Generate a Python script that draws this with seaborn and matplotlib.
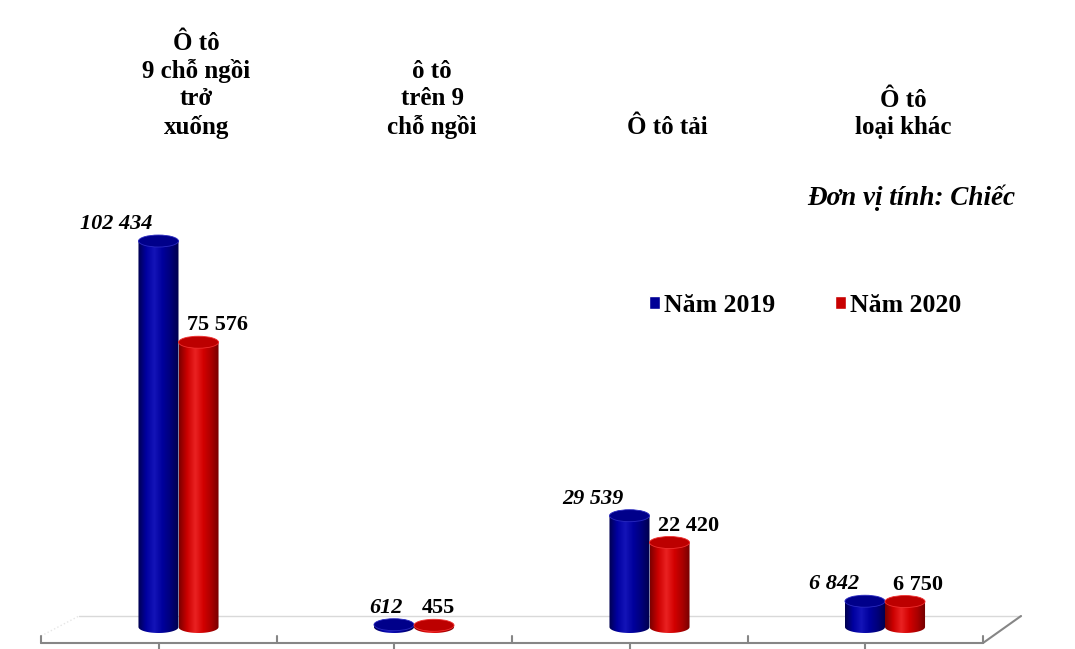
""" vehicle output 2019 vs 2020, drawn as excel-like 3d cylinders """
import numpy as np
import pandas as pd
import matplotlib
matplotlib.use("Agg")
import matplotlib.pyplot as plt
from matplotlib.colors import LinearSegmentedColormap
from matplotlib.patches import Ellipse, PathPatch
from matplotlib.path import Path
import seaborn as sns

# data
categories = ["Ô tô\n9 chỗ ngồi\ntrở\nxuống", "ô tô\ntrên 9\nchỗ ngồi", "Ô tô tải", "Ô tô\nloại khác"]
years = ["Năm 2019", "Năm 2020"]
values_2019 = [102434, 612, 29539, 6842]
values_2020 = [75576, 455, 22420, 6750]
unit_note = "Đơn vị tính: Chiếc"

# layout (pixels of the 1075x649 canvas)
W, H = 1075, 649
GROUP_X0 = 178.5      # px of first group centre
GROUP_STEP = 235.5    # px between groups
BASE_PY = 627         # px row of value 0
PX_PER_UNIT = 0.003768
ELL_PX = 12           # height of the cylinder ellipses
BLUE, RED = "#000096", "#c80000"
FONT = "Liberation Serif"


def x_of(px):
    return (px - GROUP_X0) / GROUP_STEP


def y_of(py):
    return (BASE_PY - py) / PX_PER_UNIT


def fmt(v):
    return "{:,}".format(v).replace(",", " ")


df = pd.DataFrame({
    "cat": categories * 2,
    "year": [years[0]] * len(categories) + [years[1]] * len(categories),
    "value": values_2019 + values_2020,
})

sns.set_style("white")
plt.rcParams["font.family"] = [FONT, "DejaVu Serif"]
plt.rcParams["text.color"] = "black"

fig = plt.figure(figsize=(W / 100, H / 100), dpi=100)
ax = fig.add_axes([0, 0, 1, 1])
sns.barplot(data=df, x="cat", y="value", hue="year", order=categories, hue_order=years,
            palette=[BLUE, RED], width=0.34, saturation=1, ax=ax, legend=True)

cmaps = {
    0: LinearSegmentedColormap.from_list("b", ["#00004e", "#0000a0", "#1414b8", "#00009c", "#00007a", "#00004a"]),
    1: LinearSegmentedColormap.from_list("r", ["#7a0000", "#cc0000", "#ea2222", "#d20000", "#a80000", "#6e0000"]),
}
tops = {0: ("#00008a", "#2a2ac0"), 1: ("#bc0000", "#f03030")}
grad = np.linspace(0, 1, 256).reshape(1, -1)
eh = ELL_PX / PX_PER_UNIT

for hi, cont in enumerate(ax.containers):
    for bar in cont:
        x0, w, h = bar.get_x(), bar.get_width(), bar.get_height()
        xc = x0 + w / 2
        bar.set_facecolor("none")
        bar.set_edgecolor("none")
        t = np.linspace(np.pi, 2 * np.pi, 40)
        verts = [(x0, h), (x0, 0)] + list(zip(xc + w / 2 * np.cos(t), eh / 2 * np.sin(t))) + [(x0 + w, h), (x0, h)]
        clip = PathPatch(Path(verts), facecolor="none", edgecolor="none", transform=ax.transData)
        ax.add_patch(clip)
        im = ax.imshow(grad, cmap=cmaps[hi], extent=(x0, x0 + w, -eh / 2, h), aspect="auto",
                       origin="lower", interpolation="bilinear", zorder=2)
        im.set_clip_path(clip)
        ax.add_patch(Ellipse((xc, h), w, eh, facecolor=tops[hi][0], edgecolor=tops[hi][1], lw=0.6, zorder=3))

# value labels
lab_dy = 6 / PX_PER_UNIT
for hi, cont in enumerate(ax.containers):
    for bar in cont:
        x0, w, h = bar.get_x(), bar.get_width(), bar.get_height()
        xc = x0 + w / 2
        y = h + eh / 2 + lab_dy
        if hi == 0:
            nudge = 9 if h < 1000 else -6
            ax.text(xc + nudge / GROUP_STEP, y, fmt(int(h)), ha="right", va="baseline",
                    fontsize=16, fontweight="bold", fontstyle="italic", zorder=5)
        else:
            ax.text(xc - 12 / GROUP_STEP, y, fmt(int(h)), ha="left", va="baseline",
                    fontsize=16, fontweight="bold", zorder=5)

# category labels above the chart
for i, cat in enumerate(categories):
    ax.text(i + 18 / GROUP_STEP, y_of(139), cat, ha="center", va="bottom", fontsize=18,
            fontweight="bold", linespacing=1.24)

ax.text(x_of(1015), y_of(205), unit_note, ha="right", va="baseline", fontsize=19.5,
        fontweight="bold", fontstyle="italic")

# floor of the 3d plot area
fx0, fx1, bx0, bx1 = 41, 983, 79, 1021
ax.plot([x_of(bx0), x_of(bx1)], [y_of(616), y_of(616)], color="#d9d9d9", lw=1, zorder=1)
ax.plot([x_of(fx0), x_of(fx1)], [y_of(643), y_of(643)], color="#868686", lw=1.5, zorder=1)
ax.plot([x_of(fx1), x_of(bx1)], [y_of(643), y_of(616)], color="#868686", lw=1.5, zorder=1)
ax.plot([x_of(fx0), x_of(bx0)], [y_of(636), y_of(616)], color="#e6e6e6", lw=1, ls=":", zorder=1)
for k in range(len(categories) + 1):
    px = fx0 + k * GROUP_STEP
    ax.plot([x_of(px)] * 2, [y_of(636), y_of(643)], color="#868686", lw=1.5, zorder=1)
    if k < len(categories):
        ax.plot([x_of(px + GROUP_STEP / 2)] * 2, [y_of(643), y_of(H)], color="#868686", lw=1.5, zorder=1)

leg = ax.legend(loc="center left", bbox_to_anchor=(639 / W, 1 - 305 / H), ncol=2, frameon=False,
                handlelength=0.42, handleheight=0.42, handletextpad=0.15, columnspacing=2.35,
                prop={"family": FONT, "weight": "bold", "size": 18.5}, borderaxespad=0)

ax.set_xlim(x_of(0), x_of(W))
ax.set_ylim(y_of(H), y_of(0))
ax.axis("off")
fig.savefig("out.png", dpi=100)
